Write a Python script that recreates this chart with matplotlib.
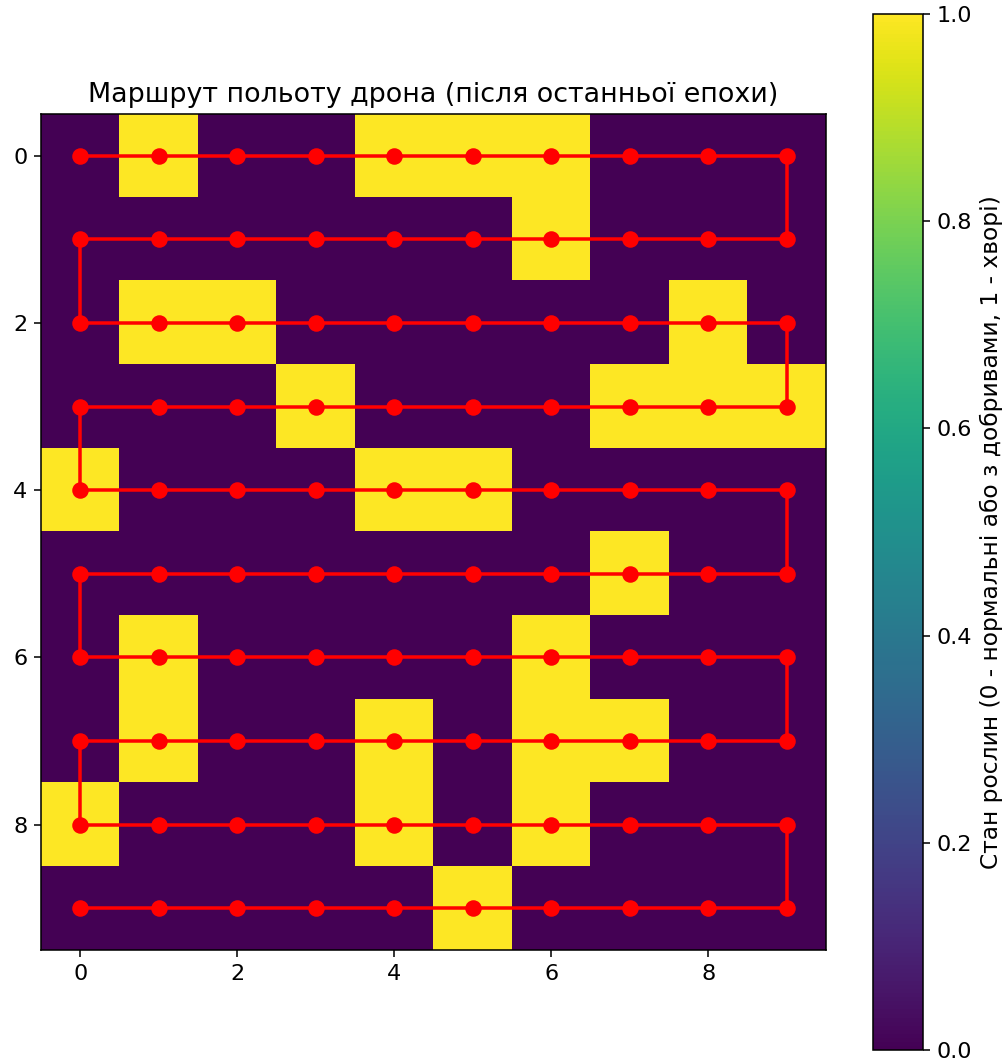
import numpy as np
import matplotlib
matplotlib.use('Agg')
from matplotlib import pyplot as plt

# стан поля: 0 - нормальні / з добривами, 1 - хворі
field = [
    [0, 1, 0, 0, 1, 1, 1, 0, 0, 0],
    [0, 0, 0, 0, 0, 0, 1, 0, 0, 0],
    [0, 1, 1, 0, 0, 0, 0, 0, 1, 0],
    [0, 0, 0, 1, 0, 0, 0, 1, 1, 1],
    [1, 0, 0, 0, 1, 1, 0, 0, 0, 0],
    [0, 0, 0, 0, 0, 0, 0, 1, 0, 0],
    [0, 1, 0, 0, 0, 0, 1, 0, 0, 0],
    [0, 1, 0, 0, 1, 0, 1, 1, 0, 0],
    [1, 0, 0, 0, 1, 0, 1, 0, 0, 0],
    [0, 0, 0, 0, 0, 1, 0, 0, 0, 0],
]
# напрямок проходу кожного рядка (1 - зліва направо, -1 - справа наліво)
row_direction = [1, -1, 1, -1, 1, -1, 1, -1, 1, -1]

title = 'Маршрут польоту дрона (після останньої епохи)'
cbar_label = 'Стан рослин (0 - нормальні або з добривами, 1 - хворі)'

grid = np.array(field)
n_rows, n_cols = grid.shape

# маршрут змійкою
route_x = []
route_y = []
for r, d in enumerate(row_direction):
    cols = list(range(n_cols))
    if d < 0:
        cols = cols[::-1]
    for c in cols:
        route_x.append(c)
        route_y.append(r)

dpi = 140
fig = plt.figure(figsize=(1003 / dpi, 1060 / dpi), dpi=dpi)
ax = fig.add_axes([0.0409, 0.1038, 0.7826, 0.7887])
cax = fig.add_axes([0.8704, 0.0095, 0.0499, 0.9773])

im = ax.imshow(grid, cmap='viridis', vmin=0, vmax=1, aspect='auto')
ax.plot(route_x, route_y, 'ro-', linewidth=1.8, markersize=7.5)
ax.set_title(title, fontsize=13.8)
ax.tick_params(labelsize=11.5)

cb = fig.colorbar(im, cax=cax)
cb.set_label(cbar_label, fontsize=12)
cb.ax.tick_params(labelsize=11.5)

fig.savefig('out.png', dpi=dpi)
